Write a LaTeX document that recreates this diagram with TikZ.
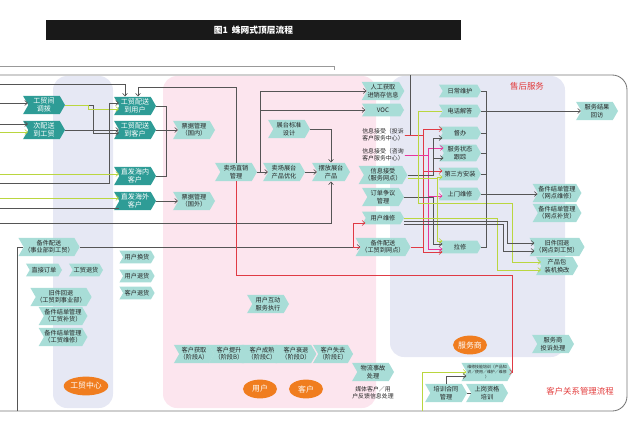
\documentclass[tikz,border=0pt]{standalone}
\usepackage{fontspec}
\newfontfamily\cjk{Noto Sans CJK SC}
\usetikzlibrary{arrows.meta, calc, shapes.symbols, shapes.geometric}

\definecolor{tealdark}{HTML}{2E9C96}
\definecolor{teallight}{HTML}{A8DDD7}
\definecolor{lavbg}{HTML}{E6E8F4}
\definecolor{pinkbg}{HTML}{FCE5EE}
\definecolor{hubfill}{HTML}{F07D1F}
\definecolor{linkred}{HTML}{E03A44}
\definecolor{linkpink}{HTML}{E8379A}
\definecolor{linkgreen}{HTML}{BAD63F}
\definecolor{linkgray}{HTML}{555555}
\definecolor{titlered}{HTML}{E23B3B}

\begin{document}
\begin{tikzpicture}[x=0.025cm, y=-0.025cm, >={Straight Barb[length=2pt,width=3.5pt]},
    chev/.style={signal, signal to=east, signal from=west, signal pointer angle=120,
        fill=teallight, text=black!85, inner sep=0.4pt, minimum width=1.05cm,
        minimum height=0.46cm, align=center, font=\cjk\fontsize{4.4}{5.2}\selectfont},
    chev_dark/.style={chev, fill=tealdark, text=white, font=\cjk\fontsize{5}{5.8}\selectfont},
    chev_one/.style={chev, minimum height=0.32cm},
    plain_text/.style={inner sep=0.4pt, align=center, text=black!85, font=\cjk\fontsize{4.2}{5}\selectfont},
    hub/.style={ellipse, fill=hubfill, text=white, inner sep=0pt, minimum width=0.85cm,
        minimum height=0.47cm, font=\cjk\fontsize{5.6}{6}\selectfont},
    area_label/.style={text=titlered, font=\cjk\fontsize{6}{7}\selectfont},
    link/.style={draw=linkgray, line width=0.45pt}
]
\useasboundingbox (0,0) rectangle (640,435);

% Title bar
\node[fill=black!90, text=white, minimum width=10.375cm, minimum height=0.5cm, inner sep=0pt,
    font=\cjk\bfseries\fontsize{6.2}{7}\selectfont] (title) at (253.5,30) {图1\ \ 蛛网式顶层流程};

% Background areas and outer frame
\draw[linkgray!60] (0,66) -- (334,66) -- (334,70);
\fill[lavbg, rounded corners=0.35cm] (53,76) rectangle (113,408);
\fill[pinkbg, rounded corners=0.35cm] (163,76) rectangle (376,408);
\fill[lavbg, rounded corners=0.35cm] (390,76) rectangle (565,357);
\draw[linkgray!80, line width=0.6pt, rounded corners=0.37cm] (0,75) -- (627,75) -- (627,411) -- (0,411);

% Free ends on the frame
\coordinate (in_top) at (0,84);
\coordinate (in_db) at (0,103);
\coordinate (in_cps) at (0,124);
\coordinate (in_cps_g) at (0,132);
\coordinate (in_hn_g) at (0,174);
\coordinate (in_zf) at (0,183);
\coordinate (in_hw_g) at (0,198);
\coordinate (in_hw) at (0,208);
\coordinate (in_bf) at (0,223);
\coordinate (bot_bj) at (17,411);
\coordinate (bot_px) at (422,411);
\coordinate (top_xx) at (410,75);

% Gongmao column
\node[chev_dark] (gmdb) at (44,105) {工贸间\\调拨};
\node[chev_dark] (cps) at (44,130) {次配送\\到工贸};
\node[chev_dark] (psyh) at (135,106) {工贸配送\\到用户};
\node[chev_dark] (pskh) at (135,130) {工贸配送\\到客户};
\node[chev_dark] (zfhn) at (135,176) {直发海内\\客户};
\node[chev_dark] (zfhw) at (135,201) {直发海外\\客户};
\node[chev, minimum width=1.3cm] (bjps1) at (49,247) {备件配送\\（事业部到工贸）};
\node[chev_one, minimum width=0.9cm] (zjdd) at (44,270) {直接订单};
\node[chev_one, minimum width=0.85cm] (gmth) at (86,270) {工贸退货};
\node[chev] (jjht1) at (61,297) {旧件回退\\（工贸到事业部）};
\node[chev] (bjjd1) at (63,316) {备件结单管理\\（工贸补货）};
\node[chev] (bjjd2) at (63,337) {备件结单管理\\（工贸维修）};
\node[chev_one, minimum width=0.88cm] (yhhh) at (137,257) {用户换货};
\node[chev_one, minimum width=0.88cm] (yhth) at (137,276) {用户退货};
\node[chev_one, minimum width=0.88cm] (khth) at (137,293) {客户退货};
\node[hub] (gmzx) at (86,386) {工贸中心};

% User and customer area
\node[chev] (pjgn) at (194,130) {票据管理\\（国内）};
\node[chev] (pjgw) at (194,201) {票据管理\\（国外）};
\node[chev] (mczx) at (236,172) {卖场直销\\管理};
\node[chev] (ztbz) at (289,129) {展台标准\\设计};
\node[chev] (mczt) at (284,172) {卖场展台\\产品优化};
\node[chev, minimum width=0.95cm] (bfzt) at (331,172) {摆放展台\\产品};
\node[chev] (yhhd) at (268,304) {用户互动\\服务执行};
\foreach \x/\nm/\tx/\st in {194/khA/获取/A, 229/khB/提升/B, 262/khC/成熟/C, 296/khD/衰退/D, 333/khE/失去/E}
    \node[chev, minimum width=0.86cm] (\nm) at (\x,354) {客户\tx\\（阶段\st）};
\node[hub] (yh) at (260,389) {用户};
\node[hub] (kh) at (306,389) {客户};

% Information column
\node[chev] (rgjx) at (383,91) {人工获取\\进销存信息};
\node[chev_one] (voc) at (383,110) {VOC};
\node[plain_text] (xxjs1) at (383,135) {信息接受（投诉\\客户服务中心）};
\node[plain_text] (xxjs2) at (383,155) {信息接受（咨询\\客户服务中心）};
\node[chev] (xxjs3) at (383,175) {信息接受\\（服务网点）};
\node[chev] (ddzy) at (383,197) {订单争议\\管理};
\node[chev_one] (yhwx) at (383,218) {用户维修};
\node[chev] (bjps2) at (383,247) {备件配送\\（工贸到网点）};
\node[chev] (wlsg) at (373,372) {物流事故\\处理};
\node[plain_text] (mtkh) at (373,393) {媒体客户／用\\户反馈信息处理};

% After-sales area
\node[area_label] (shfw) at (527,86) {售后服务};
\node[chev_one] (rcwh) at (460,91) {日常维护};
\node[chev_one] (dhjd) at (460,111) {电话解答};
\node[chev_one] (db) at (460,133) {督办};
\node[chev, minimum height=0.42cm] (fwzt) at (460,153) {服务状态\\跟踪};
\node[chev_one] (dsf) at (460,174) {第三方安装};
\node[chev_one] (smwx) at (460,194) {上门维修};
\node[chev_one] (lx) at (460,247) {拉修};
\node[chev] (fwhf) at (597,111) {服务结果\\回访};
\node[chev] (bjjd3) at (557,193) {备件结单管理\\（网点维修）};
\node[chev] (bjjd4) at (557,213) {备件结单管理\\（网点补货）};
\node[chev] (jjht2) at (557,247) {旧件回退\\（网点到工贸）};
\node[chev] (cpb) at (557,266) {产品包\\装机换改};
\node[hub] (fws) at (470,345) {服务商};
\node[chev] (fwts) at (553,344) {服务商\\投诉处理};
\node[chev, font=\cjk\fontsize{2.8}{3.3}\selectfont] (jnpx) at (487,372) {维修技能培训（产品知\\识／使用／维护／维修\\）};
\node[chev] (pxht) at (446,393) {培训合同\\管理};
\node[chev] (sgzg) at (487,393) {上岗资格\\培训};
\node[area_label] (khgx) at (580,391) {客户关系管理流程};

% Connectors on the left
\draw[link, ->] (in_top) -| ($(psyh.north)+(-10,0)$);
\draw[link, ->] (mczx.north) |- ($(psyh.north)+(3,-9)$) -- ($(psyh.north)+(3,0)$);
\draw[link, ->] (in_db) -- (gmdb.west |- in_db);
\draw[link, ->] (gmdb.east) -- ++(28,0) |- ($(pskh.west)+(0,3)$);
\draw[linkgreen, ->] (gmdb.east) -- ++(23,0) |- ($(psyh.west)+(0,3)$);
\draw[link, ->] (in_cps) -- (cps.west |- in_cps);
\draw[linkgreen, ->] (in_cps_g) -- (cps.west |- in_cps_g);
\draw[link, ->] (cps.east) -- (pskh.west);
\draw[link, ->] (pskh.east) -- (pjgn.west);
\draw[link] (psyh.east) -- ++(10,0) |- (zfhn.east);
\draw[link, ->] (in_zf) -| ($(psyh.west)+(-10,-3)$) -- ($(psyh.west)+(0,-3)$);
\draw[linkgreen, ->] (in_hn_g) -- (zfhn.west |- in_hn_g);
\draw[linkgreen, ->] (in_hw_g) -- (zfhw.west |- in_hw_g);
\draw[link] (in_hw) -- (zfhw.west |- in_hw);
\draw[link, ->] (zfhw.east) -- (pjgw.west);
\draw[link, ->] (in_bf) -| (bfzt.south);
\draw[link] (bot_bj) |- (bjps1.west);
\draw[link, ->] (bjps1.east) -- (bjps2.west);

% Connectors in the middle
\draw[link, ->] (mczx.east) -- (mczt.west);
\draw[link, ->] (mczt.east) -- (bfzt.west);
\draw[link, ->] (ztbz.east) -| (bfzt.north);
\coordinate (mc_split) at (260,172);
\draw[link, ->] (mc_split) |- (rgjx.west);
\draw[link, ->] (mc_split) |- (voc.west);
\draw[linkred, ->] (mczx.south) |- (512,275) |- (jnpx.east);
\draw[link] (xxjs1.east) -| (top_xx);

% Connectors into the after-sales column
\draw[linkred, ->] (xxjs1.east) -| (423,129) -- (db.west |- 0,129);
\draw[linkred, ->] (xxjs1.east) -| (423,171) -- (dsf.west |- 0,171);
\draw[linkred] (bjps2.east) -| (423,171);
\draw[linkred, ->] (bjps2.east) -| (423,252) -- (lx.west |- 0,252);
\draw[linkred, ->] (bjps2.west) -- ++(-7,0) |- (yhwx.west |- 0,223);
\draw[linkpink, ->] (xxjs2.east) -| (428,148) -- (fwzt.west |- 0,148);
\draw[linkpink, ->] (xxjs2.east) -| (428,196) -- (smwx.west |- 0,196);
\draw[linkpink, ->] (xxjs2.east) -| (428,249) -- (lx.west |- 0,249);
\draw[link, ->] (xxjs3.east) -| (433,138) -- (db.west |- 0,138);
\draw[link, ->] (xxjs3.east) -| (433,158) -- (fwzt.west |- 0,158);
\draw[link, ->] (ddzy.east) -| (433,244) -- (lx.west |- 0,244);
\draw[linkgreen, ->] (dhjd.west) -| (418,203) -| (512,262) -- (cpb.west |- 0,262);
\draw[linkgreen, ->] ($(xxjs3.east)+(0,3)$) -| (437,177) -- (dsf.west |- 0,177);
\draw[linkgreen, ->] ($(xxjs3.east)+(0,3)$) -| (437,241) -- (lx.west |- 0,241);

% After-sales bus and outputs
\draw[link] (rcwh.east) -- ++(5,0) |- (lx.east);
\foreach \n in {dhjd, db, fwzt, dsf, smwx}
    \draw[link] (\n.east) -- ++(5,0);
\draw[link, ->] (dhjd.east) -- (fwhf.west |- dhjd.east);
\draw[link, ->] (smwx.east) -- (bjjd3.west |- smwx.east);
\draw[linkgreen, ->] (yhwx.east) -| (497,270) -- (cpb.west |- 0,270);
\draw[link, ->] ($(yhwx.east)+(0,3)$) -| (507,243) -- (jjht2.west |- 0,243);
\draw[link, ->] ($(yhwx.east)+(0,6)$) -| (503,251) -- (jjht2.west |- 0,251);

% Training at the bottom
\draw[linkgreen, ->] (bot_px) |- (jnpx.west);
\draw[link, ->] (pxht.north) |- ($(jnpx.west)+(0,4)$);
\draw[link] (pxht.east) -- (sgzg.west);

\end{tikzpicture}
\end{document}
